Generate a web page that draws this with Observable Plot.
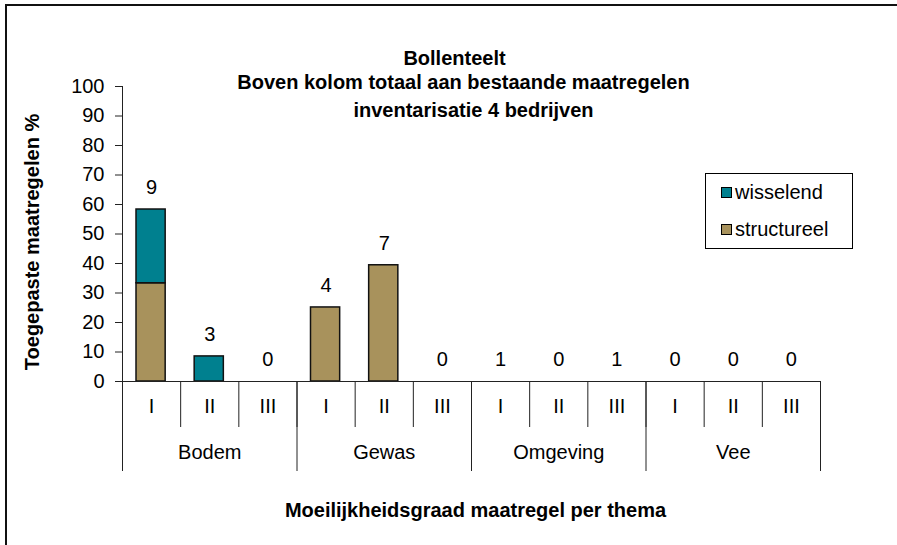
<!DOCTYPE html>
<html><head><meta charset="utf-8">
<script src="https://cdn.jsdelivr.net/npm/d3@7"></script>
<script src="https://cdn.jsdelivr.net/npm/@observablehq/plot@0.6"></script>
<style>
body{margin:0;background:#fff;}
#wrap{position:relative;width:897px;height:545px;overflow:hidden;font-family:"Liberation Sans",Arial,sans-serif;}
#border{position:absolute;left:5px;top:4px;width:1000px;height:1000px;border-top:2px solid #111;border-left:2px solid #111;box-sizing:border-box;}
#chart{position:absolute;left:0;top:0;}
#legend{position:absolute;left:705px;top:173px;width:148px;height:76px;border:1px solid #000;box-sizing:border-box;background:#fff;font-size:20px;color:#000;}
#legend .row{position:absolute;left:15px;display:flex;align-items:center;}
#legend .sw{width:9px;height:9px;border:1.5px solid #000;margin-right:3px;}
</style></head>
<body>
<div id="wrap">
  <div id="border"></div>
  <div id="chart"></div>
  <div id="legend"></div>
</div>
<script>
const themes = ["Bodem", "Gewas", "Omgeving", "Vee"];
const grades = ["I", "II", "III"];
const structureel = [33.3, 0, 0, 25.1, 39.4, 0, 0, 0, 0, 0, 0, 0];
const wisselend = [25.0, 8.5, 0, 0, 0, 0, 0, 0, 0, 0, 0, 0];
const counts = [9, 3, 0, 4, 7, 0, 1, 0, 1, 0, 0, 0];
const seriesNames = ["wisselend", "structureel"];
const seriesColors = ["#00808F", "#A8925C"];
const titleLines = ["Bollenteelt", "Boven kolom totaal aan bestaande maatregelen", "inventarisatie 4 bedrijven"];
const yLabel = "Toegepaste maatregelen %";
const xLabel = "Moeilijkheidsgraad maatregel per thema";
const yTicks = [0, 10, 20, 30, 40, 50, 60, 70, 80, 90, 100];

const cats = [];
themes.forEach((t, ti) => grades.forEach((g, gi) => {
  const i = ti * grades.length + gi;
  cats.push({i, theme: t, grade: g, s: structureel[i], w: wisselend[i], total: structureel[i] + wisselend[i], count: counts[i]});
}));
const rows = [];
cats.forEach(c => {
  rows.push({i: c.i, series: "structureel", value: c.s});
  rows.push({i: c.i, series: "wisselend", value: c.w});
});
const bars = rows.filter(r => r.value > 0);
const groups = themes.map((t, ti) => ({theme: t, start: ti * grades.length, end: (ti + 1) * grades.length}));
const bounds = d3.range(cats.length + 1);
const groupBounds = d3.range(0, cats.length + 1, grades.length);

const font = '"Liberation Sans", Arial, sans-serif';
const fs = 20;
const chart = Plot.plot({
  width: 897, height: 545,
  marginLeft: 122, marginRight: 77, marginTop: 86, marginBottom: 164,
  style: {fontFamily: font, fontSize: fs + "px", color: "#000", background: "transparent", overflow: "visible"},
  x: {type: "linear", domain: [0, cats.length], axis: null},
  y: {domain: [0, 100], axis: null},
  color: {domain: seriesNames, range: seriesColors},
  marks: [
    Plot.rectY(bars, {x1: "i", x2: d => d.i + 1, y: "value", fill: "series", stroke: "#111", strokeWidth: 1.5, insetLeft: 14, insetRight: 15, order: ["structureel", "wisselend"]}),
    Plot.ruleX([0], {stroke: "#222"}),
    Plot.ruleY([0], {stroke: "#222"}),
    Plot.axisY({ticks: yTicks, tickSize: 7, tickPadding: 11, fontSize: fs, label: null, stroke: "#222"}),
    Plot.ruleX(bounds, {x: d => d, insetTop: 295, insetBottom: -46, stroke: "#222"}),
    Plot.ruleX(groupBounds, {x: d => d, insetTop: 295, insetBottom: -90, stroke: "#222"}),
    Plot.text(cats, {x: d => d.i + 0.5, text: "grade", frameAnchor: "bottom", dy: 31, fontSize: fs}),
    Plot.text(groups, {x: d => (d.start + d.end) / 2, text: "theme", frameAnchor: "bottom", dy: 77, fontSize: fs}),
    Plot.text(cats, {x: d => d.i + 0.5, y: "total", text: d => String(d.count), dy: -22, fontSize: fs}),
    Plot.text([titleLines[0]], {frameAnchor: "top", dx: -17, dy: -36, fontWeight: "bold", fontSize: fs}),
    Plot.text([titleLines[1]], {frameAnchor: "top", dx: -8, dy: -12, fontWeight: "bold", fontSize: fs}),
    Plot.text([titleLines[2]], {frameAnchor: "top", dx: 2, dy: 16, fontWeight: "bold", fontSize: fs}),
    Plot.text([yLabel], {frameAnchor: "left", textAnchor: "middle", rotate: -90, dx: -90, dy: 8, fontWeight: "bold", fontSize: fs}),
    Plot.text([xLabel], {frameAnchor: "bottom", dx: 4, dy: 135, fontWeight: "bold", fontSize: fs})
  ]
});
document.getElementById("chart").appendChild(chart);

const legend = document.getElementById("legend");
seriesNames.forEach((n, k) => {
  const row = document.createElement("div");
  row.className = "row";
  row.style.top = (k === 0 ? 7 : 44) + "px";
  row.innerHTML = `<span class="sw" style="background:${seriesColors[k]}"></span><span>${n}</span>`;
  legend.appendChild(row);
});
</script>
</body></html>
